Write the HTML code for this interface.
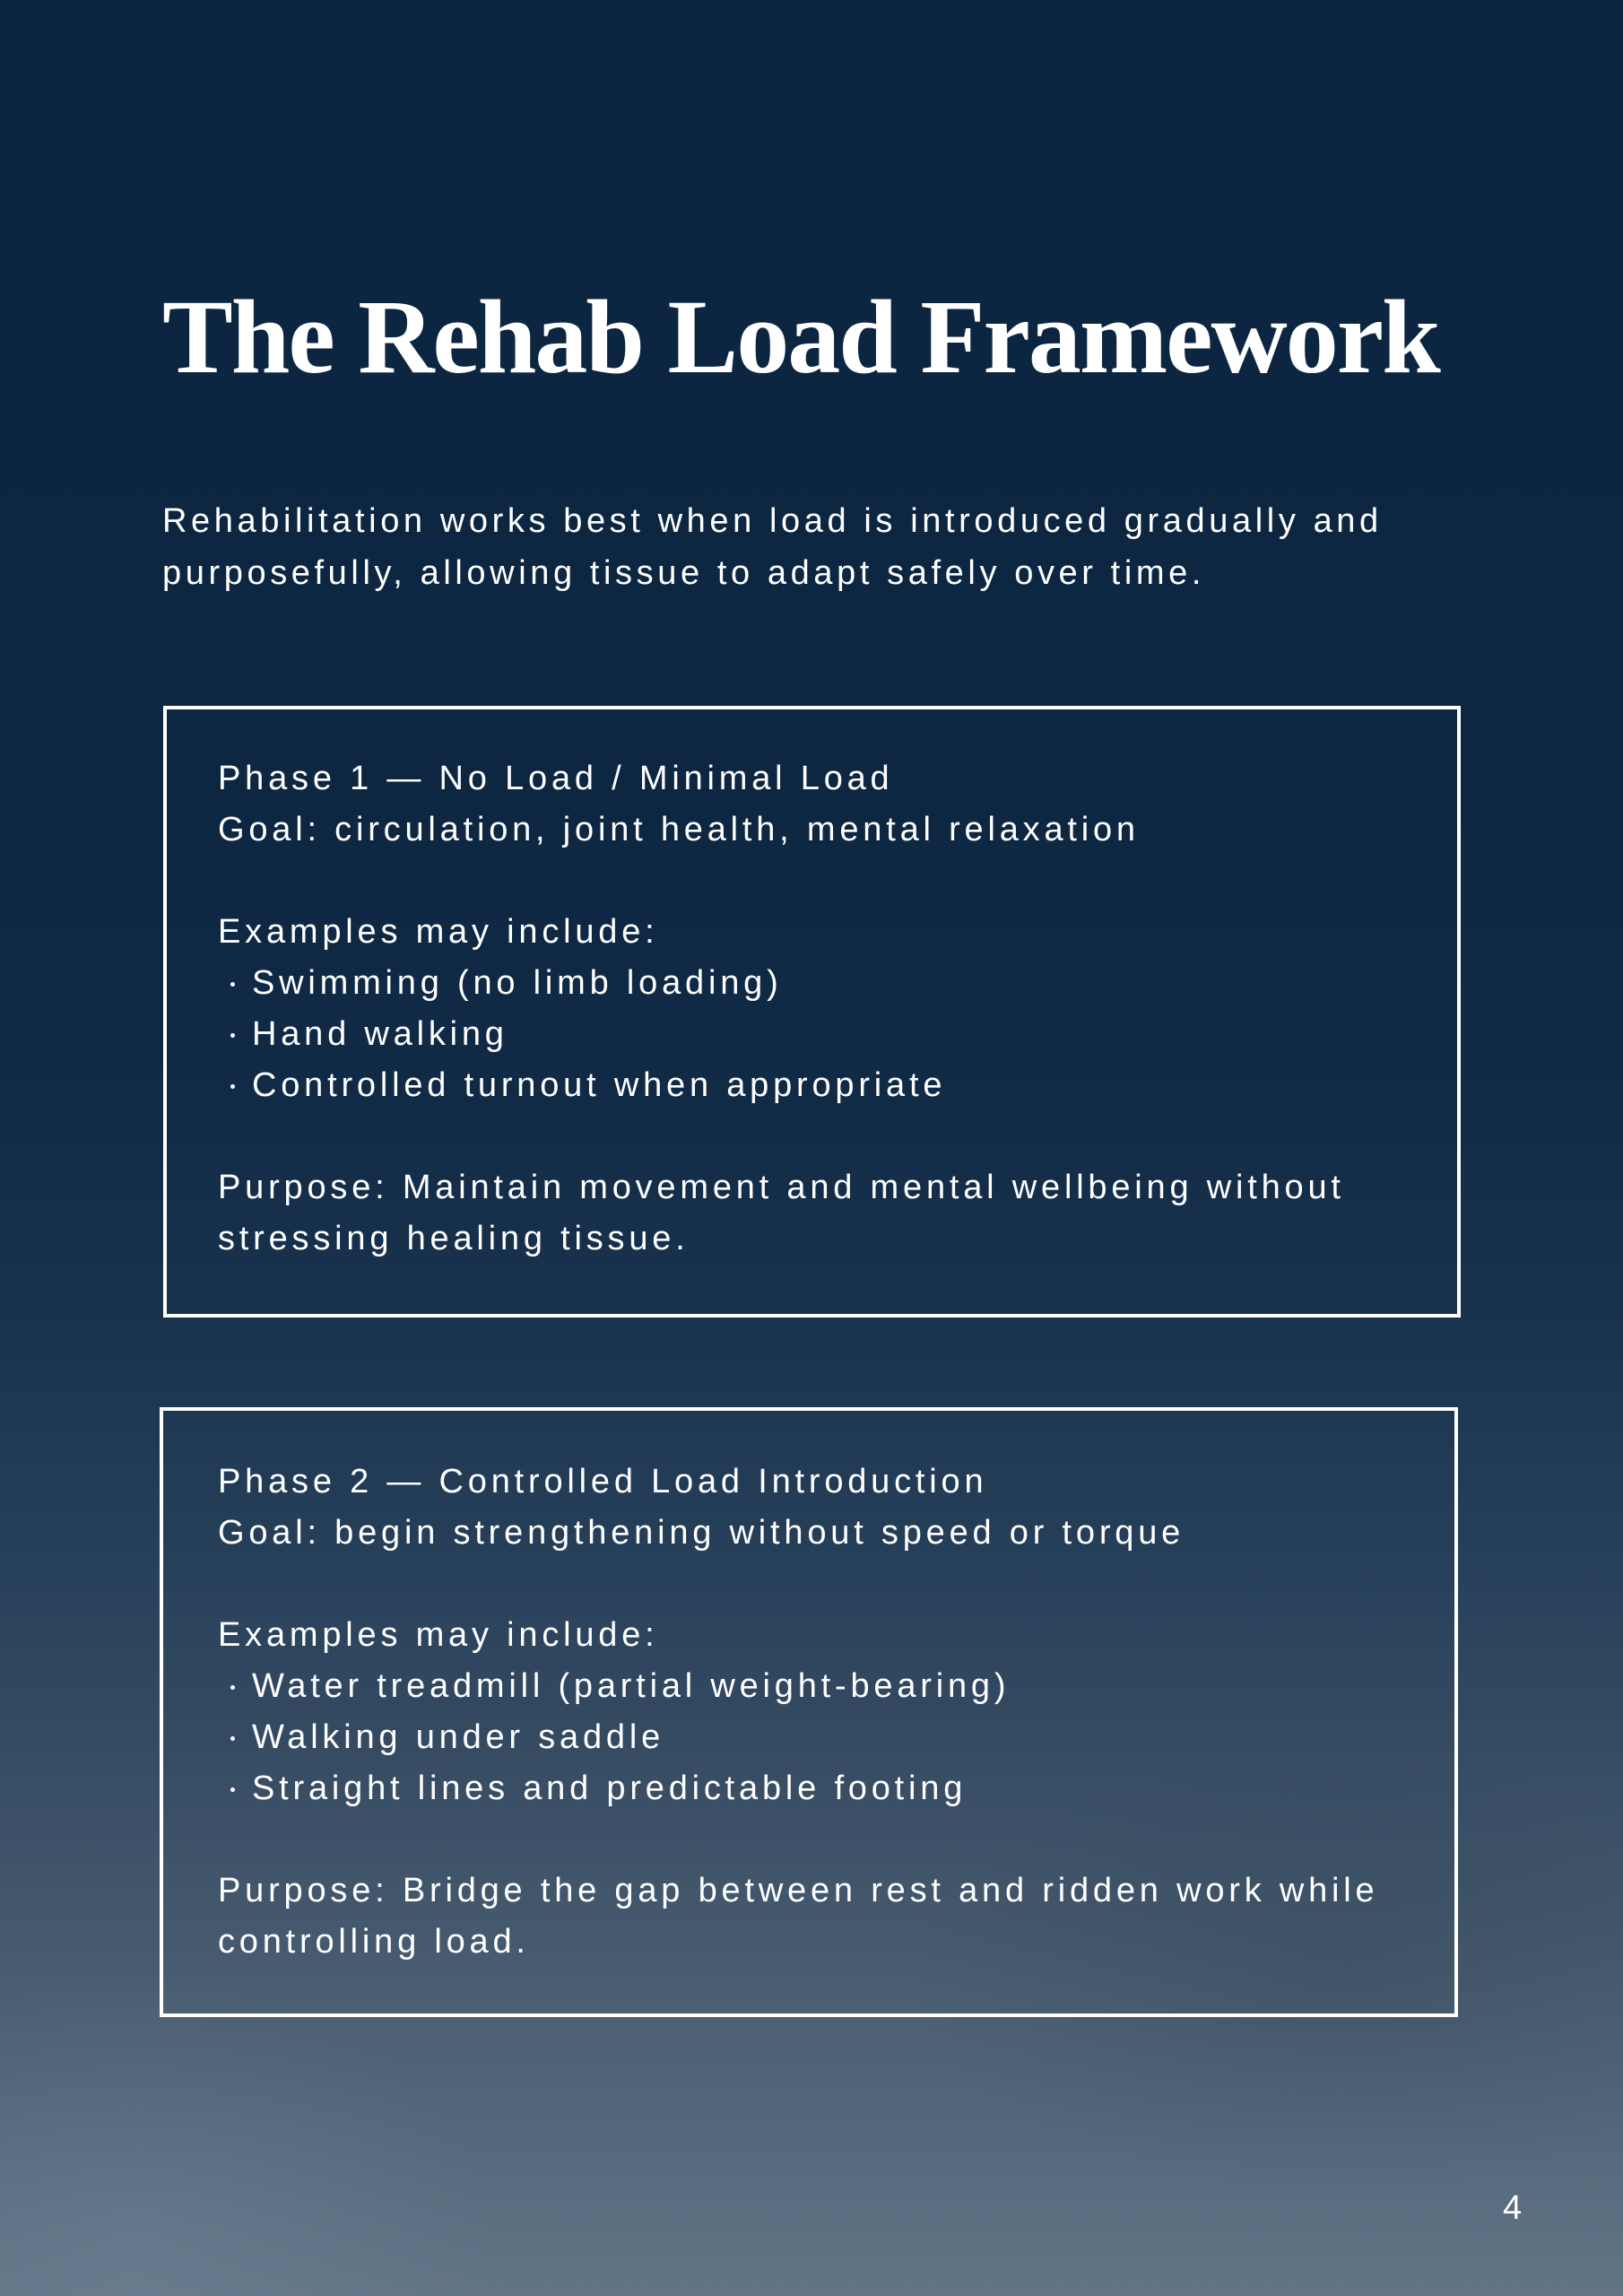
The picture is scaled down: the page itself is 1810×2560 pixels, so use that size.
<!DOCTYPE html>
<html>
<head>
<meta charset="utf-8">
<style>
  html, body { margin:0; padding:0; }
  body {
    width:1810px; height:2560px; position:relative; overflow:hidden;
    background: linear-gradient(to bottom,
      #0c2640 0%,
      #0d2742 35%,
      #112b47 48%,
      #1a334f 58%,
      #27405a 68%,
      #354b62 76%,
      #45596e 84%,
      #526578 91%,
      #627486 100%);
    font-family: "Liberation Sans", sans-serif;
    color:#ffffff;
  }
  .tex {
    position:absolute; left:0; top:1500px; width:1810px; height:1060px;
    background:
      radial-gradient(ellipse 400px 300px at 150px 1000px, rgba(140,160,180,0.18), rgba(0,0,0,0)),
      radial-gradient(ellipse 500px 250px at 1500px 700px, rgba(20,35,50,0.15), rgba(0,0,0,0));
  }
  .title {
    position:absolute; left:181px; top:317px;
    font-family: "Liberation Serif", serif; font-weight:bold;
    font-size:118px; line-height:118px; letter-spacing:-2px;
    white-space:nowrap;
  }
  .sub {
    position:absolute; left:181px; top:552px;
    font-size:38px; line-height:58px; letter-spacing:4.6px;
    white-space:nowrap;
  }
  .box {
    position:absolute; border:4px solid #ffffff; box-sizing:border-box;
  }
  .txt {
    position:absolute; left:243px;
    font-size:38px; line-height:57px; letter-spacing:4.8px;
    white-space:nowrap;
  }
  .b {
    display:inline-block; width:5px; height:5px; border-radius:50%;
    background:#fff; margin:0 19.5px 0 13.5px; vertical-align:8.5px;
  }
  .pg {
    position:absolute; left:1676px; top:2434px;
    font-size:38px; line-height:57px;
  }
</style>
</head>
<body>
<div class="tex"></div>

<div class="title">The Rehab Load Framework</div>

<div class="sub">Rehabilitation works best when load is introduced gradually and<br>purposefully, allowing tissue to adapt safely over time.</div>

<div class="box" style="left:182px; top:787px; width:1447px; height:682px;"></div>
<div class="txt" style="top:840px;">Phase 1 — No Load / Minimal Load<br>Goal: circulation, joint health, mental relaxation<br>&nbsp;<br>Examples may include:<br><span class="b"></span>Swimming (no limb loading)<br><span class="b"></span>Hand walking<br><span class="b"></span>Controlled turnout when appropriate<br>&nbsp;<br>Purpose: Maintain movement and mental wellbeing without<br>stressing healing tissue.</div>

<div class="box" style="left:178px; top:1569px; width:1448px; height:680px;"></div>
<div class="txt" style="top:1624px;">Phase 2 — Controlled Load Introduction<br>Goal: begin strengthening without speed or torque<br>&nbsp;<br>Examples may include:<br><span class="b"></span>Water treadmill (partial weight-bearing)<br><span class="b"></span>Walking under saddle<br><span class="b"></span>Straight lines and predictable footing<br>&nbsp;<br>Purpose: Bridge the gap between rest and ridden work while<br>controlling load.</div>

<div class="pg">4</div>
</body>
</html>
